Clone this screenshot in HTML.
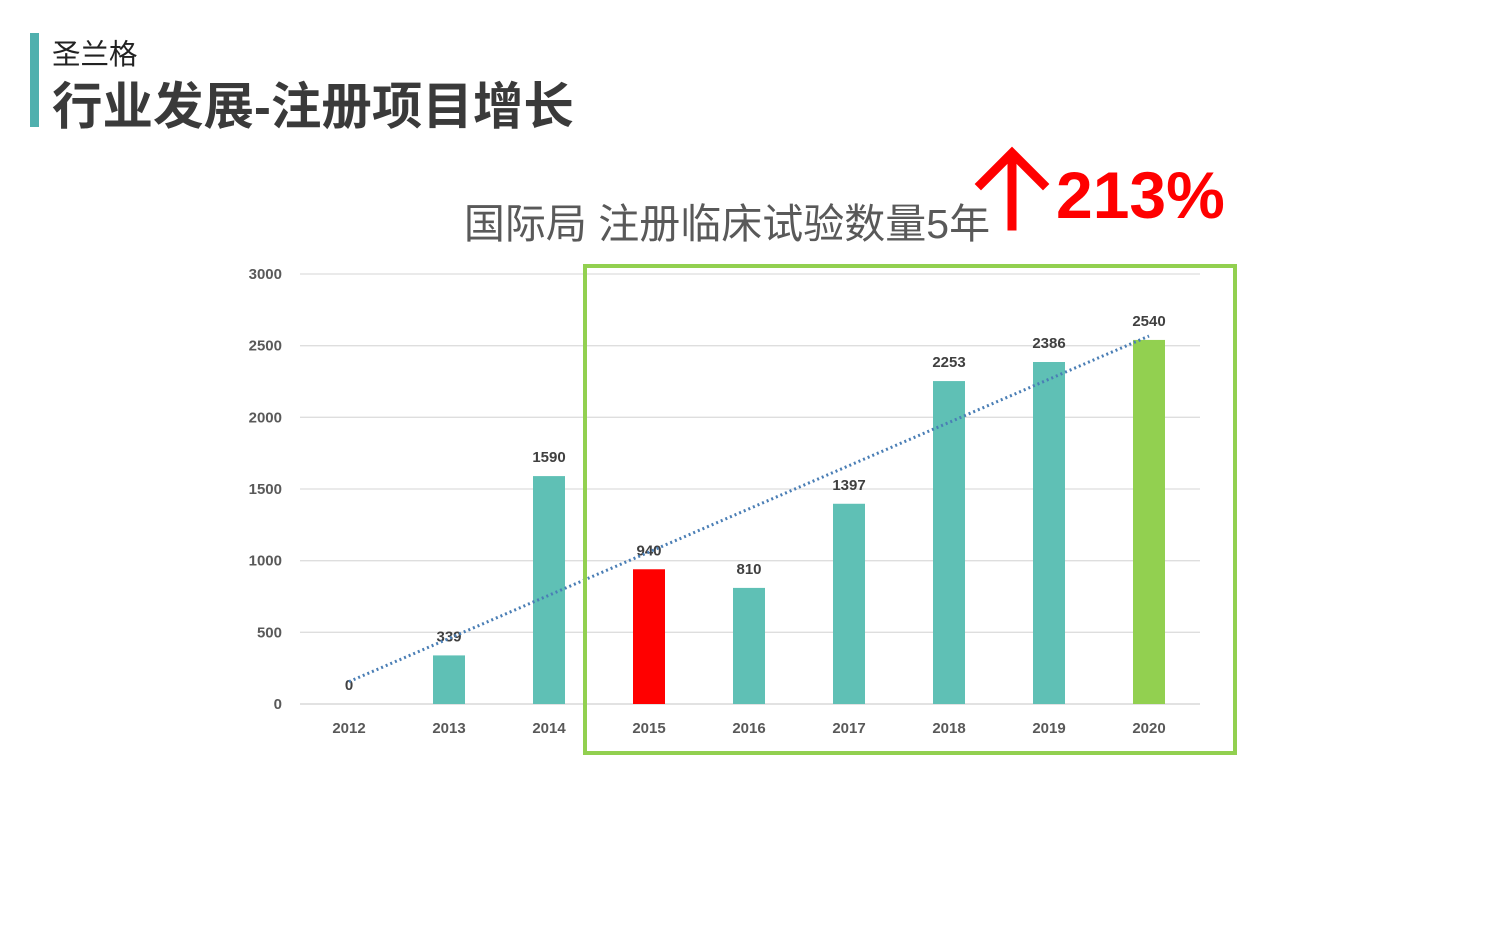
<!DOCTYPE html>
<html><head><meta charset="utf-8">
<style>
body{margin:0;width:1500px;height:938px;background:#fff;overflow:hidden;font-family:"Liberation Sans","Noto Sans CJK SC",sans-serif;}
.t{position:absolute;white-space:nowrap;}
</style></head><body>
<div style="position:absolute;left:30px;top:33px;width:9px;height:94px;background:#4fb0ae"></div>
<div class="t" style="left:52px;top:32px;font-size:28.5px;color:#222">圣兰格</div>
<div class="t" style="left:52px;top:65px;font-size:50.5px;font-weight:bold;color:#3a3a3a">行业发展-注册项目增长</div>
<svg width="1500" height="938" style="position:absolute;left:0;top:0">
<text x="727" y="238" text-anchor="middle" font-size="41" fill="#595959" font-family="Liberation Sans,Noto Sans CJK SC,sans-serif">国际局 注册临床试验数量5年</text>
<g stroke="#ff0000" stroke-width="9" fill="none" stroke-linecap="square">
<line x1="1012" y1="226" x2="1012" y2="156"/>
<polyline points="981,184 1012,153 1043,184"/>
</g>
<text x="1056" y="218" font-size="66" font-weight="bold" fill="#ff0000" font-family="Liberation Sans,sans-serif">213%</text>
<g id="grid"></g><g id="bars"></g><g id="trend"></g>
<rect x="585" y="266" width="650" height="487" fill="none" stroke="#92d050" stroke-width="4"/>
</svg>
<script>
const categories=["2012","2013","2014","2015","2016","2017","2018","2019","2020"];
const values=[0,339,1590,940,810,1397,2253,2386,2540];
const barColors=["#5fc0b5","#5fc0b5","#5fc0b5","#ff0000","#5fc0b5","#5fc0b5","#5fc0b5","#5fc0b5","#92d050"];
const yTicks=[0,500,1000,1500,2000,2500,3000];
const NS="http://www.w3.org/2000/svg";
const y=v=>704-v*430/3000;
const x=i=>349+i*100;
function mk(tag,attrs,parent){const e=document.createElementNS(NS,tag);for(const k in attrs)e.setAttribute(k,attrs[k]);parent.appendChild(e);return e;}
const grid=document.getElementById('grid'),bars=document.getElementById('bars'),trend=document.getElementById('trend');
yTicks.forEach(t=>{
 const l=mk('line',{x1:300,x2:1200,y1:y(t),y2:y(t),stroke:t===0?'#d0d0d0':'#dedede','stroke-width':1.3},grid);
 
 
 const tx=mk('text',{x:282,y:y(t)+5,'text-anchor':'end','font-size':15,'font-weight':'bold',fill:'#595959','font-family':'Liberation Sans,sans-serif'},grid);
 tx.textContent=t;
 
 
});
categories.forEach((c,i)=>{
 const v=values[i];
 const r=mk('rect',{x:x(i)-16,y:y(v),width:32,height:704-y(v),fill:barColors[i]},bars);
 
 
 const lb=mk('text',{x:x(i),y:y(v)-14,'text-anchor':'middle','font-size':15,'font-weight':'bold',fill:'#404040','font-family':'Liberation Sans,sans-serif'},bars);
 lb.textContent=v;
 
 
 const cl=mk('text',{x:x(i),y:733,'text-anchor':'middle','font-size':15,'font-weight':'bold',fill:'#595959','font-family':'Liberation Sans,sans-serif'},bars);
 cl.textContent=c;
 
 
});
const n=values.length;let mx=(n-1)/2,my=values.reduce((a,b)=>a+b,0)/n,sxy=0,sxx=0;
values.forEach((v,i)=>{sxy+=(i-mx)*(v-my);sxx+=(i-mx)*(i-mx);});
const slope=sxy/sxx,ic=my-slope*mx;
const tl=mk('line',{x1:x(0),y1:y(ic),x2:x(n-1),y2:y(ic+slope*(n-1)),stroke:'#4a7eb5','stroke-width':3,'stroke-dasharray':'2 3'},trend);


</script>
</body></html>
